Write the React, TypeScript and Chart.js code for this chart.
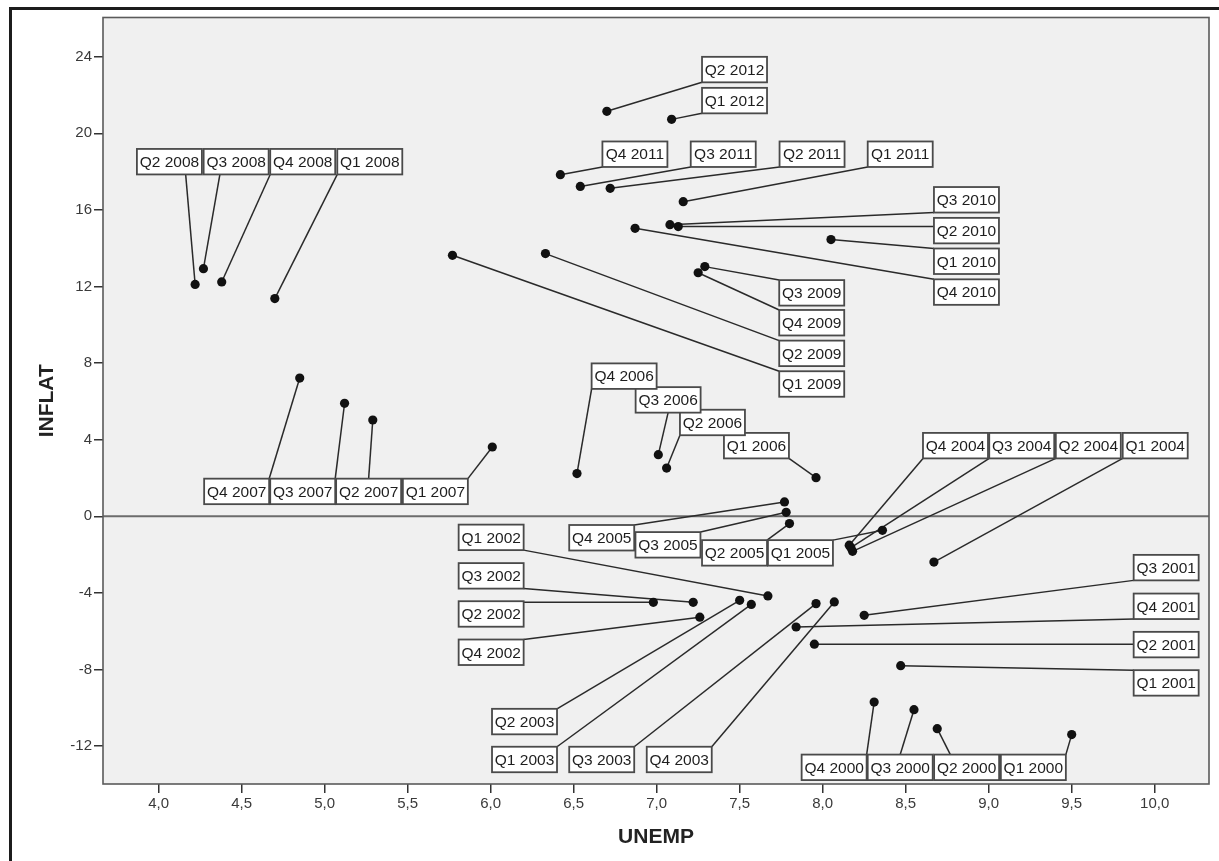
import React, { useEffect, useRef } from "react";
import { Chart, registerables } from "chart.js";

Chart.register(...registerables);

// ---- data ----
const quarters = [
  "Q1 2000", "Q2 2000", "Q3 2000", "Q4 2000",
  "Q1 2001", "Q2 2001", "Q3 2001", "Q4 2001",
  "Q1 2002", "Q2 2002", "Q3 2002", "Q4 2002",
  "Q1 2003", "Q2 2003", "Q3 2003", "Q4 2003",
  "Q1 2004", "Q2 2004", "Q3 2004", "Q4 2004",
  "Q1 2005", "Q2 2005", "Q3 2005", "Q4 2005",
  "Q1 2006", "Q2 2006", "Q3 2006", "Q4 2006",
  "Q1 2007", "Q2 2007", "Q3 2007", "Q4 2007",
  "Q1 2008", "Q2 2008", "Q3 2008", "Q4 2008",
  "Q1 2009", "Q2 2009", "Q3 2009", "Q4 2009",
  "Q1 2010", "Q2 2010", "Q3 2010", "Q4 2010",
  "Q1 2011", "Q2 2011", "Q3 2011", "Q4 2011",
  "Q1 2012", "Q2 2012",
];

const unemp = [
  9.50, 8.69, 8.55, 8.31,
  8.47, 7.95, 8.25, 7.84,
  7.67, 6.98, 7.22, 7.26,
  7.57, 7.50, 7.96, 8.07,
  8.67, 8.18, 8.17, 8.16,
  8.36, 7.80, 7.78, 7.77,
  7.96, 7.06, 7.01, 6.52,
  6.01, 5.29, 5.12, 4.85,
  4.70, 4.22, 4.27, 4.38,
  5.77, 6.33, 7.29, 7.25,
  8.05, 7.13, 7.08, 6.87,
  7.16, 6.72, 6.54, 6.42,
  7.09, 6.70,
];

const inflat = [
  -11.40, -11.09, -10.10, -9.70,
  -7.80, -6.68, -5.17, -5.78,
  -4.16, -4.49, -4.49, -5.27,
  -4.60, -4.39, -4.56, -4.47,
  -2.39, -1.83, -1.64, -1.51,
  -0.73, -0.38, 0.21, 0.75,
  2.02, 2.52, 3.22, 2.23,
  3.62, 5.03, 5.90, 7.22,
  11.37, 12.11, 12.93, 12.24,
  13.63, 13.72, 13.04, 12.72,
  14.45, 15.13, 15.23, 15.04,
  16.43, 17.13, 17.23, 17.84,
  20.73, 21.15,
];

// label box centres (in axis units) – layout of the case labels
const labelX = [
  9.269, 8.867, 8.467, 8.069,
  10.069, 10.069, 10.069, 10.069,
  6.003, 6.003, 6.003, 6.003,
  6.204, 6.204, 6.669, 7.136,
  10.003, 9.600, 9.199, 8.800,
  7.866, 7.469, 7.068, 6.669,
  7.601, 7.336, 7.069, 6.804,
  5.667, 5.265, 4.868, 4.470,
  5.272, 4.065, 4.467, 4.868,
  7.934, 7.934, 7.934, 7.934,
  8.866, 8.866, 8.866, 8.866,
  8.467, 7.936, 7.401, 6.869,
  7.469, 7.469,
];
const labelY = [
  -13.11, -13.11, -13.11, -13.11,
  -8.70, -6.70, -2.68, -4.70,
  -1.10, -5.10, -3.11, -7.10,
  -12.70, -10.72, -12.70, -12.70,
  3.69, 3.69, 3.69, 3.69,
  -1.91, -1.91, -1.49, -1.12,
  3.69, 4.90, 6.08, 7.32,
  1.30, 1.30, 1.30, 1.30,
  18.52, 18.52, 18.52, 18.52,
  6.91, 8.51, 11.67, 10.11,
  13.32, 14.92, 16.53, 11.71,
  18.91, 18.91, 18.91, 18.91,
  21.71, 23.33,
];
// optional fixed attach position (fraction along the top/bottom edge)
const labelAttach: (number | null)[] = [
  null, 0.25, 0.5, null,
  null, null, null, null,
  null, null, null, null,
  null, null, null, null,
  null, null, null, null,
  null, null, null, null,
  null, null, 0.5, null,
  null, 0.5, null, null,
  null, 0.75, 0.25, null,
  null, null, null, null,
  null, null, null, null,
  null, null, null, null,
  null, null,
];

const xTicks = [4, 4.5, 5, 5.5, 6, 6.5, 7, 7.5, 8, 8.5, 9, 9.5, 10];
const yTicks = [-12, -8, -4, 0, 4, 8, 12, 16, 20, 24];

const X_MIN = 3.665;
const X_MAX = 10.327;
const Y_MIN = -13.98;
const Y_MAX = 26.05;

const FONT = '"Liberation Sans", Arial, sans-serif';
const BOX_W = 65;
const BOX_H = 25.5;

const spssPlugin = {
  id: "spssDecor",
  beforeDraw(chart: any) {
    const { ctx, chartArea: a } = chart;
    ctx.save();
    ctx.fillStyle = "#ffffff";
    ctx.fillRect(0, 0, chart.width, chart.height);
    ctx.fillStyle = "#1c1c1c";
    ctx.fillRect(9, 7, chart.width, 3);
    ctx.fillRect(9, 7, 3, chart.height);
    ctx.fillStyle = "#f0f0f0";
    ctx.fillRect(a.left, a.top, a.right - a.left, a.bottom - a.top);
    ctx.restore();
  },
  beforeDatasetsDraw(chart: any) {
    const { ctx, chartArea: a, scales } = chart;
    const xs = scales.x;
    const ys = scales.y;
    ctx.save();
    // reference line at 0
    const y0 = ys.getPixelForValue(0);
    ctx.strokeStyle = "#6c6c6c";
    ctx.lineWidth = 2;
    ctx.beginPath();
    ctx.moveTo(a.left, y0);
    ctx.lineTo(a.right, y0);
    ctx.stroke();
    // leader lines
    ctx.strokeStyle = "#2a2a2a";
    ctx.lineWidth = 1.5;
    for (let i = 0; i < quarters.length; i++) {
      const px = xs.getPixelForValue(unemp[i]);
      const py = ys.getPixelForValue(inflat[i]);
      const cx = xs.getPixelForValue(labelX[i]);
      const cy = ys.getPixelForValue(labelY[i]);
      const L = cx - BOX_W / 2, R = cx + BOX_W / 2;
      const T = cy - BOX_H / 2, B = cy + BOX_H / 2;
      let ax: number, ay: number;
      const f = labelAttach[i];
      if (f !== null && f !== undefined) {
        ax = L + f * BOX_W;
        ay = py < T ? T : B;
      } else {
        ax = Math.min(Math.max(px, L), R);
        ay = Math.min(Math.max(py, T), B);
      }
      ctx.beginPath();
      ctx.moveTo(ax, ay);
      ctx.lineTo(px, py);
      ctx.stroke();
    }
    ctx.restore();
  },
  afterDatasetsDraw(chart: any) {
    const { ctx, chartArea: a, scales } = chart;
    const xs = scales.x;
    const ys = scales.y;
    ctx.save();
    ctx.font = `15.5px ${FONT}`;
    ctx.textAlign = "center";
    ctx.textBaseline = "middle";
    for (let i = 0; i < quarters.length; i++) {
      const cx = xs.getPixelForValue(labelX[i]);
      const cy = ys.getPixelForValue(labelY[i]);
      ctx.fillStyle = "#ffffff";
      ctx.fillRect(cx - BOX_W / 2, cy - BOX_H / 2, BOX_W, BOX_H);
      ctx.strokeStyle = "#4a4a4a";
      ctx.lineWidth = 1.8;
      ctx.strokeRect(cx - BOX_W / 2, cy - BOX_H / 2, BOX_W, BOX_H);
      ctx.fillStyle = "#1e1e1e";
      ctx.fillText(quarters[i], cx, cy + 1);
    }
    // plot frame
    ctx.strokeStyle = "#5a5a5a";
    ctx.lineWidth = 1.6;
    ctx.strokeRect(a.left, a.top, a.right - a.left, a.bottom - a.top);
    ctx.restore();
  },
};

export default function App() {
  const canvasRef = useRef<HTMLCanvasElement | null>(null);

  useEffect(() => {
    if (!canvasRef.current) return;
    const points = unemp.map((u, i) => ({ x: u, y: inflat[i] }));
    const chart = new Chart(canvasRef.current, {
      type: "scatter",
      data: {
        datasets: [
          {
            label: "INFLAT",
            data: points,
            pointRadius: 4.6,
            pointHoverRadius: 4.6,
            backgroundColor: "#111111",
            borderWidth: 0,
          },
        ],
      },
      options: {
        animation: false,
        responsive: false,
        devicePixelRatio: 1,
        layout: { padding: { top: 17.5, right: 10, left: 0, bottom: 0 } },
        plugins: {
          legend: { display: false },
          tooltip: { enabled: false },
        },
        scales: {
          x: {
            type: "linear",
            min: X_MIN,
            max: X_MAX,
            afterBuildTicks: (scale: any) => {
              scale.ticks = xTicks.map((v) => ({ value: v }));
            },
            afterFit: (scale: any) => {
              scale.height = 77;
            },
            grid: {
              display: true,
              drawOnChartArea: false,
              drawTicks: true,
              tickLength: 9,
              color: "#333333",
              lineWidth: 1.5,
            },
            border: { display: false },
            ticks: {
              autoSkip: false,
              maxRotation: 0,
              padding: 2,
              color: "#3a3a3a",
              font: { family: FONT, size: 15 },
              callback: (v: any) => Number(v).toFixed(1).replace(".", ","),
            },
            title: {
              display: true,
              text: "UNEMP",
              color: "#222222",
              font: { family: FONT, size: 21, weight: "bold" },
              padding: { top: 0, bottom: 11 },
            },
          },
          y: {
            type: "linear",
            min: Y_MIN,
            max: Y_MAX,
            afterBuildTicks: (scale: any) => {
              scale.ticks = yTicks.map((v) => ({ value: v }));
            },
            afterFit: (scale: any) => {
              scale.width = 103;
            },
            grid: {
              display: true,
              drawOnChartArea: false,
              drawTicks: true,
              tickLength: 9,
              color: "#333333",
              lineWidth: 1.5,
            },
            border: { display: false },
            ticks: {
              autoSkip: false,
              padding: 2,
              color: "#3a3a3a",
              font: { family: FONT, size: 15 },
              callback: (v: any) => String(v),
            },
            title: {
              display: true,
              text: "INFLAT",
              color: "#222222",
              font: { family: FONT, size: 21, weight: "bold" },
              padding: { top: 35, bottom: 0 },
            },
          },
        },
      },
      plugins: [spssPlugin],
    });
    return () => chart.destroy();
  }, []);

  return (
    <div style={{ position: "absolute", left: 0, top: 0, width: 1219, height: 861 }}>
      <canvas ref={canvasRef} width={1219} height={861} style={{ display: "block" }} />
    </div>
  );
}
